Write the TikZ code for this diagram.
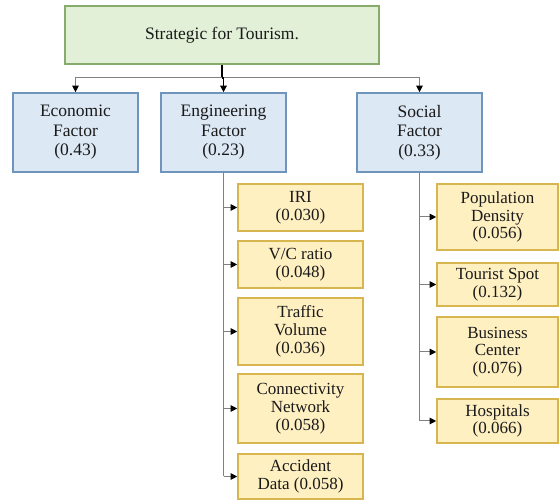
\documentclass[tikz,border=0pt]{standalone}
\usepackage{fontspec}
\setmainfont{Liberation Serif}
\usetikzlibrary{arrows.meta}
\definecolor{gfill}{HTML}{E3F0D8}
\definecolor{gdraw}{HTML}{86AB6A}
\definecolor{bfill}{HTML}{DDE8F5}
\definecolor{bdraw}{HTML}{6F95BD}
\definecolor{yfill}{HTML}{FFF0C2}
\definecolor{ydraw}{HTML}{D7B650}
\definecolor{lgray}{HTML}{808080}
\definecolor{txt}{HTML}{1A1A1A}
\tikzset{
  box/.style={draw, line width=1.6pt, align=center, inner sep=2pt, text=txt,
    font=\fontsize{17}{17.8}\selectfont},
  topbox/.style={box, fill=gfill, draw=gdraw, minimum width=314pt, minimum height=58pt,
    font=\fontsize{17.5}{19}\selectfont},
  factor/.style={box, fill=bfill, draw=bdraw, minimum width=125pt, minimum height=79pt,
    font=\fontsize{17.5}{19.5}\selectfont},
  subbox/.style={box, fill=yfill, draw=ydraw},
  engsub/.style={subbox, minimum width=125pt},
  socsub/.style={subbox, minimum width=121pt},
  conn/.style={draw=lgray, line width=1pt, -{Triangle[color=black, length=6.5pt, width=6.5pt]}},
  plain/.style={draw=lgray, line width=1pt},
  trunk/.style={draw=black, line width=1.3pt}
}
\begin{document}
\begin{tikzpicture}[x=1pt, y=-1pt]
\useasboundingbox (0,0) rectangle (560,502);
\node[topbox] (top) at (222,35) {Strategic for Tourism.};
\node[factor] (econ) at (75.5,132.5) {Economic\\Factor\\(0.43)};
\node[factor] (eng) at (223.5,132.5) {Engineering\\Factor\\(0.23)};
\node[factor] (soc) at (419.5,132.5) {Social\\Factor\\(0.33)};
% engineering sub-factors
\node[engsub, minimum height=47pt] (iri) at (300.5,207.5) {IRI\\(0.030)};
\node[engsub, minimum height=47pt] (vc) at (300.5,264.5) {V/C ratio\\(0.048)};
\node[engsub, minimum height=67pt] (tv) at (300.5,331.5) {Traffic\\Volume\\(0.036)};
\node[engsub, minimum height=69pt] (cn) at (300.5,408.5) {Connectivity\\Network\\(0.058)};
\node[engsub, minimum height=45pt] (ad) at (300.5,476.5) {Accident\\Data (0.058)};
% social sub-factors
\node[socsub, minimum height=66pt] (pd) at (497.5,217) {Population\\Density\\(0.056)};
\node[socsub, minimum height=43pt] (ts) at (497.5,284.5) {Tourist Spot\\(0.132)};
\node[socsub, minimum height=70pt] (bc) at (497.5,352) {Business\\Center\\(0.076)};
\node[socsub, minimum height=44pt] (hs) at (497.5,421) {Hospitals\\(0.066)};
% top level connectors
\coordinate (bus) at (222,78);
\draw[plain] (bus -| econ.north) -- (bus -| soc.north);
\draw[trunk] (top.south) -- (bus);
\draw[conn] (bus) -| (econ.north);
\draw[conn] (bus) -| (soc.north);
\draw[trunk, -{Triangle[color=black, length=6.5pt, width=6.5pt]}] (bus) -- (bus -| eng.north) -- (eng.north);
% engineering branch
\draw[plain] (eng.south) -- (eng.south |- ad.west);
\foreach \n in {iri,vc,tv,cn,ad}{
  \draw[conn] (eng.south |- \n.west) -- (\n.west);
}
% social branch
\draw[plain] (soc.south) -- (soc.south |- hs.west);
\foreach \n in {pd,ts,bc,hs}{
  \draw[conn] (soc.south |- \n.west) -- (\n.west);
}
\end{tikzpicture}
\end{document}
